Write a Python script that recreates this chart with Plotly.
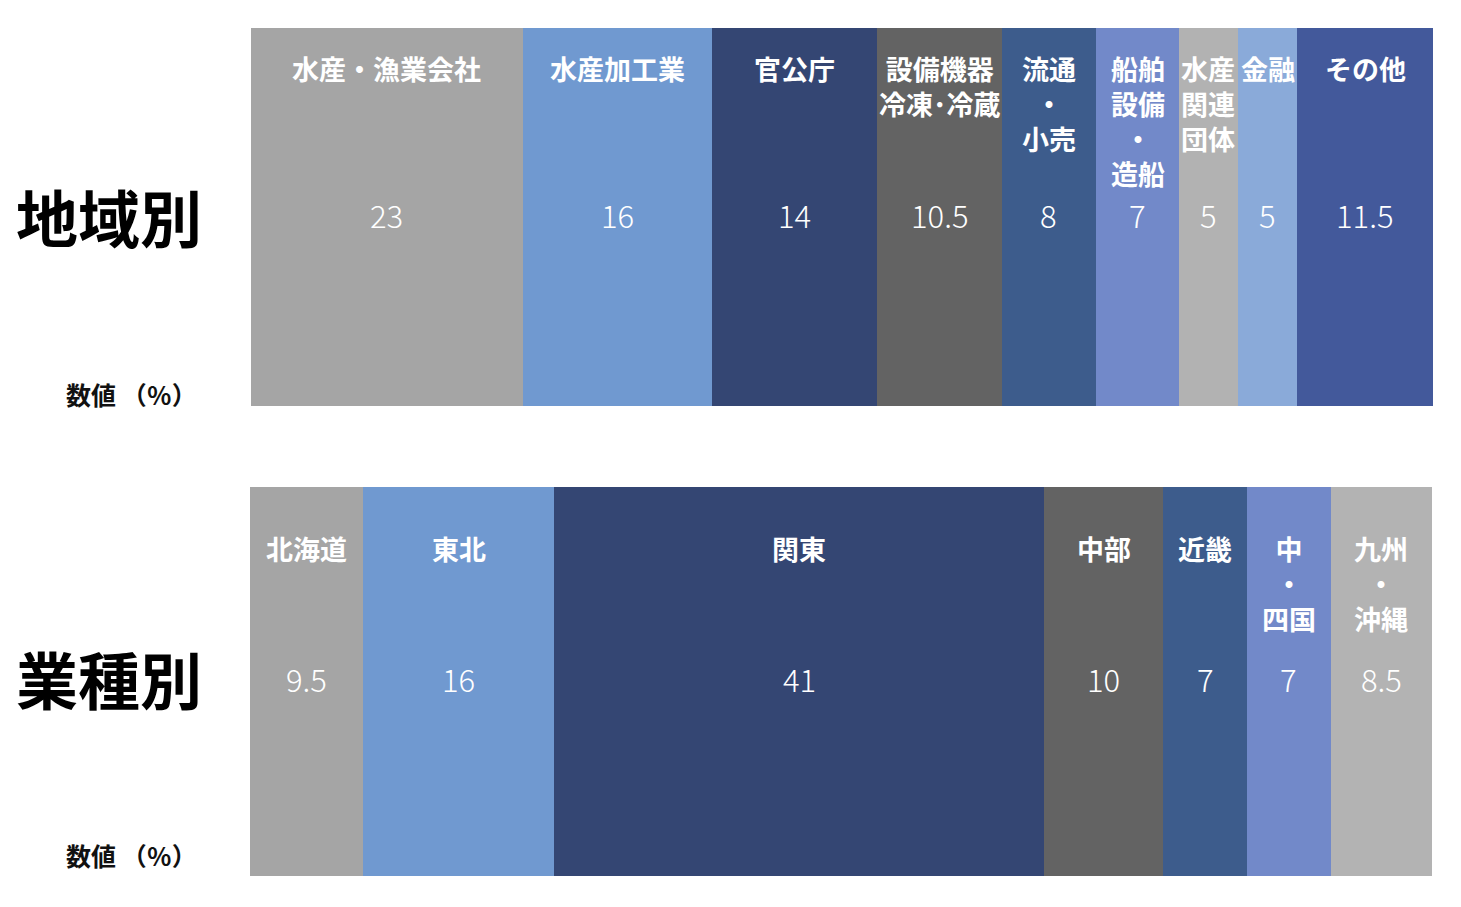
import plotly.graph_objects as go

# ---- data ----
top_labels = ["水産・漁業会社", "水産加工業", "官公庁", "設備機器<br>冷凍･冷蔵", "流通<br>・<br>小売",
              "船舶<br>設備<br>・<br>造船", "水産<br>関連<br>団体", "金融", "その他"]
top_values = [23, 16, 14, 10.5, 8, 7, 5, 5, 11.5]
top_colors = ["#a5a5a5", "#7099d0", "#344673", "#636363", "#3d5c8c",
              "#7289c9", "#b2b2b2", "#8aaad9", "#43599b"]

bot_labels = ["北海道", "東北", "関東", "中部", "近畿", "中<br>・<br>四国", "九州<br>・<br>沖縄"]
bot_values = [9.5, 16, 41, 10, 7, 7, 8.5]
bot_colors = ["#a5a5a5", "#7099d0", "#344673", "#636363", "#3d5c8c", "#7289c9", "#b3b3b3"]

row_titles = ["地域別", "業種別"]
unit_label = "数値 （％）"

FONT = "Noto Sans CJK JP"
OFF = 8  # page body margin
W, H = 1461 - 2 * OFF, 907 - 2 * OFF


def px_x(px):
    return (px - OFF) / W


def px_y(px):
    return 1 - (px - OFF) / H


fig = go.Figure()
annotations = []


def add_bar(labels, values, colors, xa, ya, label_top):
    cum = 0
    for lab, v, c in zip(labels, values, colors):
        fig.add_trace(go.Bar(
            x=[v], y=[0], orientation="h", width=1,
            marker=dict(color=c, line=dict(width=0)),
            xaxis=xa, yaxis=ya, showlegend=False, hoverinfo="skip",
        ))
        mid = cum + v / 2
        annotations.append(dict(
            x=mid, y=label_top, xref=xa, yref=ya + " domain",
            text=lab, showarrow=False, yanchor="top", xanchor="center",
            font=dict(family=FONT, size=27, color="white", weight="bold"),
        ))
        annotations.append(dict(
            x=mid, y=0, xref=xa, yref=ya, yshift=3,
            text=f"{v:g}", showarrow=False, yanchor="middle", xanchor="center",
            font=dict(family=FONT, size=31, color="white", weight=300),
        ))
        cum += v
    return cum


tot_top = add_bar(top_labels, top_values, top_colors, "x", "y", 0.950)
tot_bot = add_bar(bot_labels, bot_values, bot_colors, "x2", "y2", 0.896)

# left-side titles
for title, yc, yu in [(row_titles[0], px_y(216), px_y(394)), (row_titles[1], px_y(678), px_y(855))]:
    annotations.append(dict(
        x=px_x(109), y=yc, xref="paper", yref="paper", text=title, showarrow=False,
        xanchor="center", yanchor="middle",
        font=dict(family=FONT, size=62, color="black", weight="bold"),
    ))
    annotations.append(dict(
        x=px_x(131), y=yu, xref="paper", yref="paper", text=unit_label, showarrow=False,
        xanchor="center", yanchor="middle",
        font=dict(family=FONT, size=25, color="#111111", weight="bold"),
    ))

axis_common = dict(showgrid=False, zeroline=False, showticklabels=False, showline=False, ticks="", fixedrange=True)
fig.update_layout(
    width=W, height=H,
    margin=dict(l=0, r=0, t=0, b=0),
    paper_bgcolor="white", plot_bgcolor="white",
    barmode="stack", bargap=0,
    xaxis=dict(domain=[px_x(251), px_x(1433)], range=[0, tot_top], anchor="y", **axis_common),
    yaxis=dict(domain=[px_y(406), px_y(28)], range=[-0.5, 0.5], anchor="x", **axis_common),
    xaxis2=dict(domain=[px_x(250), px_x(1432)], range=[0, tot_bot], anchor="y2", **axis_common),
    yaxis2=dict(domain=[px_y(876), px_y(487)], range=[-0.5, 0.5], anchor="x2", **axis_common),
    annotations=annotations,
    font=dict(family=FONT),
)

fig.write_html("out.html")
